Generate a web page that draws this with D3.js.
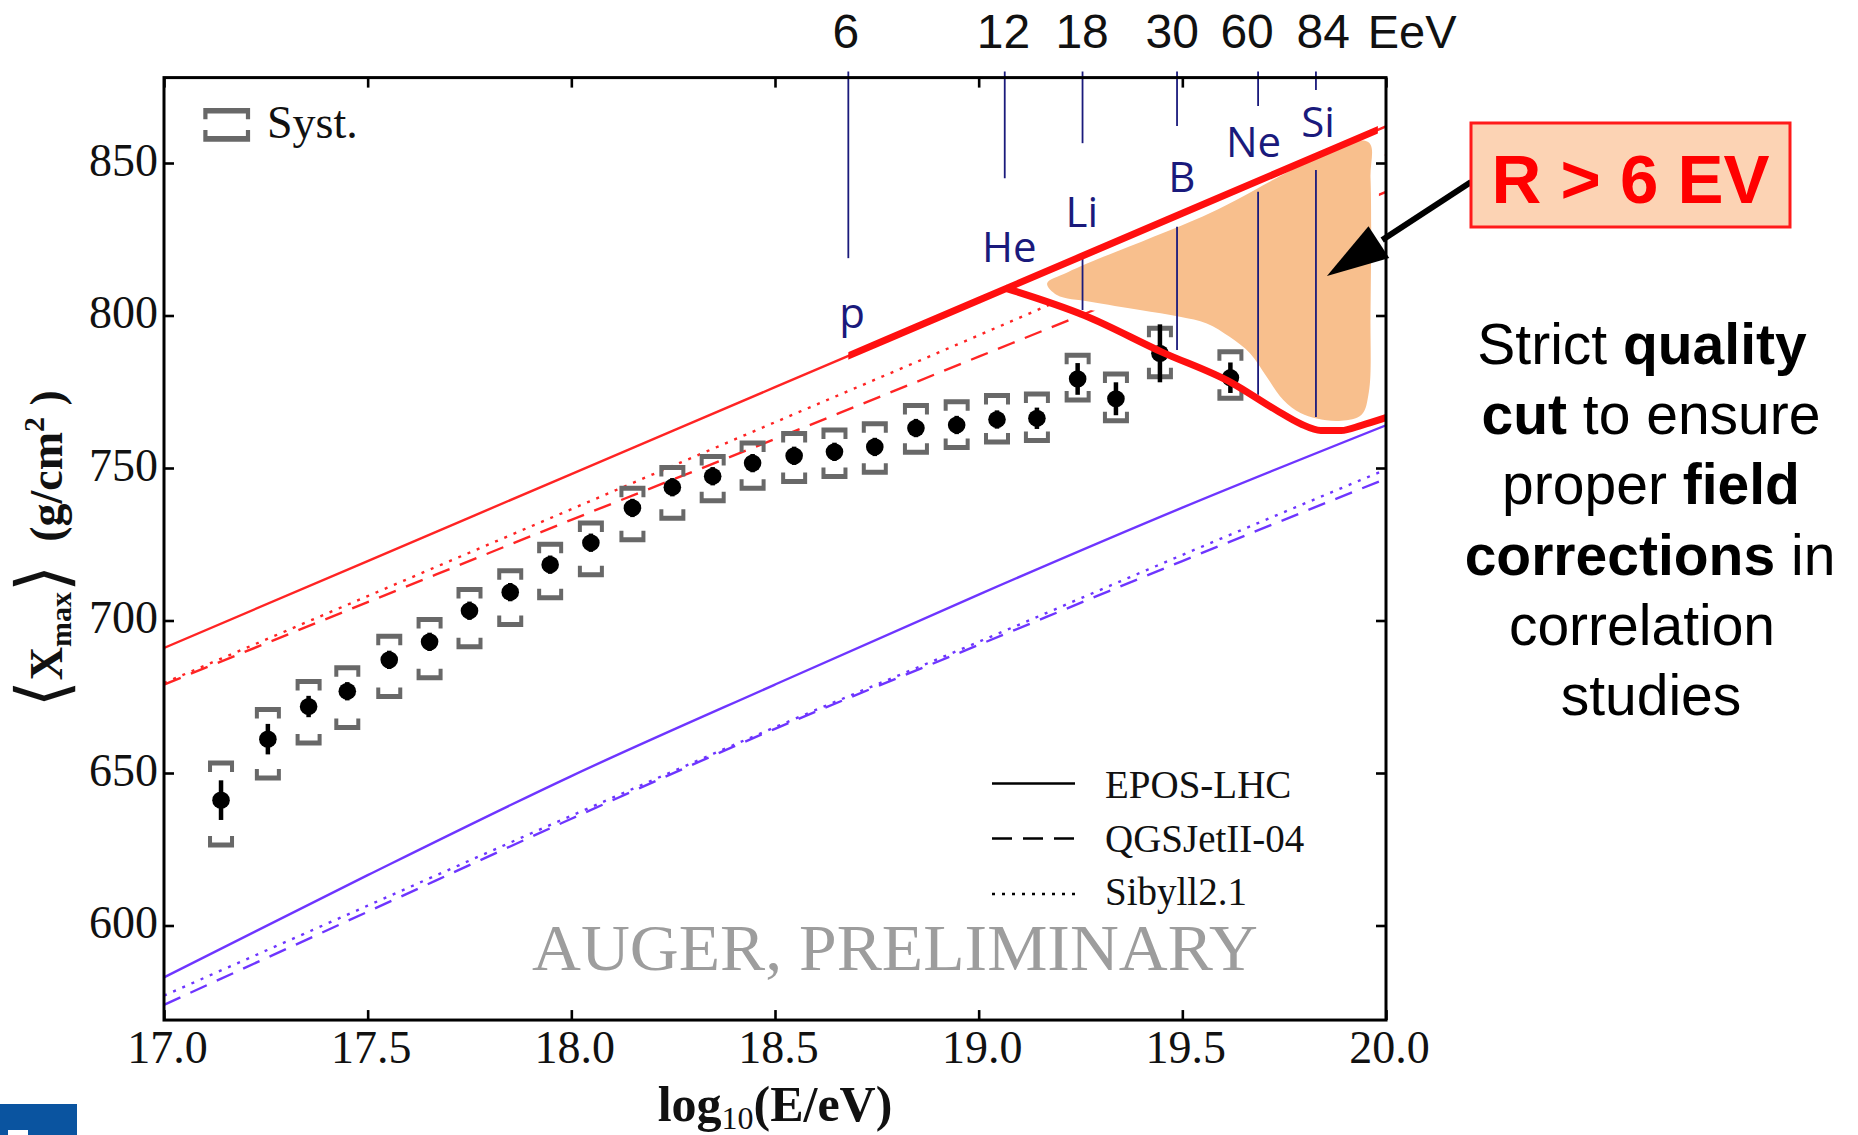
<!DOCTYPE html>
<html>
<head>
<meta charset="utf-8">
<script src="https://cdn.jsdelivr.net/npm/d3@7"></script>
<style>
  html, body { margin: 0; padding: 0; background: #fff; }
  svg { display: block; }
  text { white-space: pre; }
</style>
</head>
<body>
<svg id="chart" width="1858" height="1135"></svg>
<script>
// ---- measured <Xmax> per energy bin ----
const logE = [17.14, 17.255, 17.355, 17.45, 17.553, 17.652, 17.75, 17.85, 17.948, 18.048,
              18.15, 18.248, 18.347, 18.445, 18.547, 18.646, 18.745, 18.846, 18.946, 19.045,
              19.143, 19.243, 19.337, 19.445, 19.618];
const xmaxMean = [641.1, 661.1, 671.8, 676.8, 687.1, 693.0, 703.2, 709.3, 718.3, 725.5,
                  736.9, 743.7, 747.3, 751.6, 754.0, 755.3, 756.9, 763.1, 764.1, 765.9,
                  766.3, 779.2, 772.7, 787.6, 779.6];
const statErr = [6.5, 5.0, 3.5, 3.0, 3.0, 3.0, 3.0, 3.0, 3.0, 3.0,
                 3.0, 3.0, 3.0, 3.0, 3.0, 3.0, 3.0, 3.0, 3.0, 3.0,
                 3.5, 5.2, 5.4, 9.5, 5.0];
const sysUp = [12.2, 9.7, 8.2, 7.7, 7.7, 7.3, 7.0, 7.0, 6.7, 6.5,
               6.5, 6.5, 6.5, 6.6, 7.3, 7.2, 7.6, 7.4, 7.6, 7.9,
               8.0, 7.8, 8.1, 8.2, 8.5];
const sysDown = [14.7, 12.7, 12.0, 11.9, 12.0, 11.8, 11.8, 10.6, 10.8, 10.5,
                 10.4, 10.2, 8.0, 8.2, 8.4, 8.1, 8.3, 7.9, 7.4, 7.4,
                 7.3, 6.9, 7.2, 7.7, 6.7];

// ---- hadronic model predictions (proton / iron) ----
const modelX = [17.0, 17.5, 18.0, 18.5, 19.0, 19.5, 20.0];
const eposP  = [691, 719.5, 748, 776.5, 805, 833.5, 862];
const qgsP   = [679, 706, 733, 759.5, 786.5, 813.5, 840.5];
const sibP   = [679.5, 708, 736.5, 765, 793.5, 822.5, 852.5];
const eposFe = [583, 616.5, 649, 679, 708.5, 737, 764];
const qgsFe  = [574, 604.5, 635, 664.5, 692, 719.5, 746.5];
const sibFe  = [577, 606.5, 636, 665, 693, 721.5, 749.5];

// ---- axes ----
const xTicks = [17.0, 17.5, 18.0, 18.5, 19.0, 19.5, 20.0];
const yTicks = [600, 650, 700, 750, 800, 850];
const xDomain = [17, 20];
const yDomain = [569, 878];

// ---- rigidity cut R > 6 EV: energy thresholds per nucleus ----
const thresholdEeV = ['6', '12', '18', '30', '60', '84'];
const thresholdLabelX = [18.674, 19.061, 19.254, 19.475, 19.659, 19.846];
const thresholdLineX = [18.680, 19.064, 19.255, 19.487, 19.686, 19.828];
const thresholdLineTop = 880;
const thresholdLineEnd = [818.8, 845.0, 856.5, 862.1, 868.7, 873.9];
const nuclei = ['p', 'He', 'Li', 'B', 'Ne', 'Si'];
const nucleusX = [18.689, 19.075, 19.253, 19.499, 19.675, 19.833];
const nucleusY = [795.9, 817.6, 829.1, 840.6, 852.1, 858.6];
const innerLineX = [19.255, 19.487, 19.686, 19.828];
const innerLineTop = [818.8, 829.1, 840.6, 847.7];
const innerLineBottom = [801.8, 788.7, 774.0, 766.7];

// lower edge of the accepted band (thick red)
const cutX = [19.065, 19.26, 19.45, 19.62, 19.73, 19.79, 19.84, 19.89, 19.94, 20.0];
const cutY = [809, 800, 788, 778, 769, 764.5, 762.3, 762.3, 764, 766.5];
const cutStartX = 18.68;
const cutEndX = 19.98;

// shaded accepted region
const regionX = [19.168, 19.22, 19.55, 19.955, 19.962, 19.962, 19.958, 19.94, 19.89, 19.83,
                 19.79, 19.748, 19.707, 19.666, 19.616, 19.56, 19.494, 19.396, 19.274, 19.192];
const regionY = [810.5, 814.3, 832.5, 857.0, 845, 800, 775, 767.5, 765.5, 766.2,
                 768, 772.3, 779.9, 787.6, 793.0, 797.4, 799.6, 801.8, 804.5, 806.7];

const legendNames = ['EPOS-LHC', 'QGSJetII-04', 'Sibyll2.1'];
const noteLines = [
  [['Strict ', false], ['quality', true]],
  [['cut', true], [' to ensure', false]],
  [['proper ', false], ['field', true]],
  [['corrections', true], [' in', false]],
  [['correlation', false]],
  [['studies', false]]
];

// ---- drawing ----
const svg = d3.select('#chart');
const W = 1858, H = 1135;
svg.append('rect').attr('width', W).attr('height', H).attr('fill', '#fff');

const xS = d3.scaleLinear().domain(xDomain).range([164, 1386]);
const yS = d3.scaleLinear().domain(yDomain).range([1020.05, 77.6]);

const RED = '#ff2424', RED_THICK = '#ff0f0f', BLUE = '#6e35ff', NAVY = '#1a1a7c', GREY = '#686868';
const SERIF = "'Liberation Serif', 'Times New Roman', serif";
const SANS = "'Liberation Sans', Arial, sans-serif";
const CAL = "'Open Sans', 'Noto Sans', sans-serif";

const defs = svg.append('defs');
defs.append('clipPath').attr('id', 'plotClip').append('rect')
  .attr('x', xS(17)).attr('y', yS(878)).attr('width', xS(20) - xS(17)).attr('height', yS(569) - yS(878));
defs.append('clipPath').attr('id', 'cutClip').append('rect')
  .attr('x', xS(cutStartX)).attr('y', 0).attr('width', xS(cutEndX) - xS(cutStartX)).attr('height', H);

// model curves
const modelLine = d3.line().x((d, i) => xS(modelX[i])).y(d => yS(d)).curve(d3.curveMonotoneX);
const models = [
  { v: eposP, c: RED, dash: null }, { v: qgsP, c: RED, dash: '18,11' }, { v: sibP, c: RED, dash: '3,7' },
  { v: eposFe, c: BLUE, dash: null }, { v: qgsFe, c: BLUE, dash: '18,11' }, { v: sibFe, c: BLUE, dash: '3,7' }
];
const gModels = svg.append('g').attr('clip-path', 'url(#plotClip)');
models.forEach(m => {
  gModels.append('path').attr('d', modelLine(m.v)).attr('fill', 'none')
    .attr('stroke', m.c).attr('stroke-width', 2.4)
    .attr('stroke-dasharray', m.dash);
});

// accepted region with white halo
const regionPts = regionX.map((x, i) => [xS(x), yS(regionY[i])]);
const regionPath = d3.line().curve(d3.curveCatmullRomClosed.alpha(0.5))(regionPts);
svg.append('path').attr('d', regionPath).attr('fill', '#fff').attr('stroke', '#fff')
  .attr('stroke-width', 16).attr('stroke-linejoin', 'round');
svg.append('path').attr('d', regionPath).attr('fill', '#f8bf8d');

// threshold lines and labels
const gThr = svg.append('g');
thresholdLineX.forEach((x, i) => {
  gThr.append('line').attr('x1', xS(x)).attr('x2', xS(x))
    .attr('y1', yS(thresholdLineTop)).attr('y2', yS(thresholdLineEnd[i]))
    .attr('stroke', NAVY).attr('stroke-width', 1.8);
});
innerLineX.forEach((x, i) => {
  gThr.append('line').attr('x1', xS(x)).attr('x2', xS(x))
    .attr('y1', yS(innerLineTop[i])).attr('y2', yS(innerLineBottom[i]))
    .attr('stroke', NAVY).attr('stroke-width', 1.8);
});
thresholdEeV.forEach((t, i) => {
  gThr.append('text').attr('x', xS(thresholdLabelX[i])).attr('y', 48)
    .attr('text-anchor', 'middle').attr('font-family', SANS).attr('font-size', 48)
    .attr('fill', '#111').text(t);
});
gThr.append('text').attr('x', xS(19.955)).attr('y', 48)
  .attr('font-family', SANS).attr('font-size', 47).attr('fill', '#111').text('EeV');
nuclei.forEach((n, i) => {
  gThr.append('text').attr('x', xS(nucleusX[i])).attr('y', yS(nucleusY[i]))
    .attr('text-anchor', 'middle').attr('font-family', CAL).attr('font-size', 42)
    .attr('fill', NAVY).text(n);
});

// data points: systematic brackets, statistical bars, markers
function bracket(cx, cy, dir, hw, ht, tl, tw) {
  return `M${cx - hw},${cy - ht * dir}L${cx + hw},${cy - ht * dir}L${cx + hw},${cy + tl * dir}` +
         `L${cx + hw - tw},${cy + tl * dir}L${cx + hw - tw},${cy + ht * dir}L${cx - hw + tw},${cy + ht * dir}` +
         `L${cx - hw + tw},${cy + tl * dir}L${cx - hw},${cy + tl * dir}Z`;
}
const gData = svg.append('g');
logE.forEach((e, i) => {
  const cx = xS(e), v = xmaxMean[i];
  gData.append('path').attr('d', bracket(cx, yS(v + sysUp[i]), 1, 13, 2.5, 9, 4)).attr('fill', GREY);
  gData.append('path').attr('d', bracket(cx, yS(v - sysDown[i]), -1, 13, 2.5, 9, 4)).attr('fill', GREY);
  gData.append('line').attr('x1', cx).attr('x2', cx)
    .attr('y1', yS(v - statErr[i])).attr('y2', yS(v + statErr[i]))
    .attr('stroke', '#000').attr('stroke-width', 4.5);
  gData.append('ellipse').attr('cx', cx).attr('cy', yS(v)).attr('rx', 8.8).attr('ry', 8.6).attr('fill', '#000');
});

// thick red band edges
svg.append('path').attr('d', modelLine(eposP)).attr('clip-path', 'url(#cutClip)')
  .attr('fill', 'none').attr('stroke', RED_THICK).attr('stroke-width', 7);
const cutLine = d3.line().x((d, i) => xS(cutX[i])).y(d => yS(d)).curve(d3.curveMonotoneX);
svg.append('path').attr('d', cutLine(cutY)).attr('fill', 'none')
  .attr('stroke', RED_THICK).attr('stroke-width', 7).attr('stroke-linejoin', 'round');

// Syst. legend
svg.append('path').attr('d', bracket(226.7, 110.8, 1, 23.4, 2.8, 8.5, 4.2)).attr('fill', GREY);
svg.append('path').attr('d', bracket(226.7, 138.9, -1, 23.4, 2.8, 8.9, 4.2)).attr('fill', GREY);
svg.append('text').attr('x', 267).attr('y', 138).attr('font-family', SERIF).attr('font-size', 46)
  .attr('fill', '#111').text('Syst.');

// model legend
const legY = [783.5, 838.5, 894];
const legBase = [798, 852, 905];
const legDash = [null, '20,11', '3,7'];
legendNames.forEach((n, i) => {
  svg.append('line').attr('x1', 992).attr('x2', 1075).attr('y1', legY[i]).attr('y2', legY[i])
    .attr('stroke', '#000').attr('stroke-width', 2.6).attr('stroke-dasharray', legDash[i]);
  svg.append('text').attr('x', 1105).attr('y', legBase[i]).attr('font-family', SERIF)
    .attr('font-size', 39).attr('fill', '#111').text(n);
});

// watermark
svg.append('text').attr('x', 532).attr('y', 970).attr('font-family', SERIF).attr('font-size', 66)
  .attr('fill', '#9d9d9d').attr('textLength', 726).attr('lengthAdjust', 'spacingAndGlyphs')
  .text('AUGER, PRELIMINARY');

// axes
const gx = svg.append('g').attr('transform', `translate(0,${yS(569)})`)
  .call(d3.axisBottom(xS).tickValues(xTicks).tickSize(-10).tickSizeOuter(0).tickPadding(10).tickFormat(d3.format('.1f')));
const gxt = svg.append('g').attr('transform', `translate(0,${yS(878)})`)
  .call(d3.axisTop(xS).tickValues(xTicks).tickSize(-10).tickSizeOuter(0).tickFormat(''));
const gy = svg.append('g').attr('transform', `translate(${xS(17)},0)`)
  .call(d3.axisLeft(yS).tickValues(yTicks).tickSize(-10).tickSizeOuter(0).tickPadding(6));
const gyr = svg.append('g').attr('transform', `translate(${xS(20)},0)`)
  .call(d3.axisRight(yS).tickValues(yTicks).tickSize(-10).tickSizeOuter(0).tickFormat(''));
[gx, gxt, gy, gyr].forEach(g => {
  g.select('.domain').remove();
  g.selectAll('.tick line').attr('stroke', '#000').attr('stroke-width', 2.6);
  g.selectAll('.tick text').attr('font-family', SERIF).attr('font-size', 46).attr('fill', '#111');
});
gx.selectAll('.tick text').attr('dx', 3);
gy.selectAll('.tick text').attr('dy', '0.27em');
svg.append('rect').attr('x', xS(17)).attr('y', yS(878)).attr('width', xS(20) - xS(17))
  .attr('height', yS(569) - yS(878)).attr('fill', 'none').attr('stroke', '#000').attr('stroke-width', 3);

// axis titles
const xt = svg.append('text').attr('x', (xS(17) + xS(20)) / 2).attr('y', 1121)
  .attr('text-anchor', 'middle').attr('font-family', SERIF).attr('font-size', 50).attr('fill', '#111');
xt.append('tspan').attr('font-weight', 'bold').text('log');
xt.append('tspan').attr('font-size', 32).attr('dy', 8).text('10');
xt.append('tspan').attr('dy', -8).attr('font-weight', 'bold').text('(E/eV)');

const yt = svg.append('text').attr('transform', `translate(62,${(yS(569) + yS(878)) / 2}) rotate(-90)`)
  .attr('text-anchor', 'middle').attr('font-family', SERIF).attr('font-size', 46).attr('fill', '#111');
yt.append('tspan').attr('font-family', "'DejaVu Serif', serif").attr('font-size', 70).attr('font-weight', 'normal').attr('dy', 4).text('\u27E8');
yt.append('tspan').attr('font-weight', 'bold').attr('dy', -4).text('X');
yt.append('tspan').attr('font-weight', 'bold').attr('font-size', 30).attr('dy', 9).text('max');
yt.append('tspan').attr('dy', -5).attr('font-family', "'DejaVu Serif', serif").attr('font-size', 70).text('\u27E9');
yt.append('tspan').attr('font-weight', 'bold').attr('dy', -4).text('  (g/cm');
yt.append('tspan').attr('font-weight', 'bold').attr('font-size', 30).attr('dy', -18).text('2');
yt.append('tspan').attr('font-weight', 'bold').attr('dy', 18).text(' )');

// callout box and arrow
const tip = [xS(19.855), yS(812.95)];
const start = [1471, 182];
const ux = (start[0] - tip[0]), uy = (start[1] - tip[1]);
const len = Math.hypot(ux, uy), u = [ux / len, uy / len], nrm = [-u[1], u[0]];
const headL = 62, headW = 19;
const base = [tip[0] + headL * u[0], tip[1] + headL * u[1]];
svg.append('line').attr('x1', start[0]).attr('y1', start[1]).attr('x2', base[0] + 4 * u[0]).attr('y2', base[1] + 4 * u[1])
  .attr('stroke', '#000').attr('stroke-width', 6);
svg.append('path').attr('d', `M${tip[0]},${tip[1]}L${base[0] + headW * nrm[0]},${base[1] + headW * nrm[1]}L${base[0] - headW * nrm[0]},${base[1] - headW * nrm[1]}Z`)
  .attr('fill', '#000');

svg.append('rect').attr('x', 1471).attr('y', 123).attr('width', 319).attr('height', 104)
  .attr('fill', '#fcd3b4').attr('stroke', '#ff1a1a').attr('stroke-width', 3);
svg.append('text').attr('x', 1630.5).attr('y', 203).attr('text-anchor', 'middle')
  .attr('font-family', SANS).attr('font-weight', 'bold').attr('font-size', 69).attr('fill', '#ff0000')
  .text('R > 6 EV');

// explanatory note
const noteCx = [1642, 1651, 1651, 1650, 1642, 1651];
noteLines.forEach((ln, i) => {
  const t = svg.append('text').attr('x', noteCx[i]).attr('y', 364 + 70.2 * i).attr('text-anchor', 'middle')
    .attr('font-family', SANS).attr('font-size', 57).attr('fill', '#000');
  ln.forEach(([s, b]) => t.append('tspan').attr('font-weight', b ? 'bold' : 'normal').text(s));
});

// corner tab
svg.append('rect').attr('x', 0).attr('y', 1104).attr('width', 77).attr('height', 31).attr('fill', '#0a54a0');
svg.append('rect').attr('x', 8).attr('y', 1130).attr('width', 20).attr('height', 5).attr('fill', '#fff');
</script>
</body>
</html>
